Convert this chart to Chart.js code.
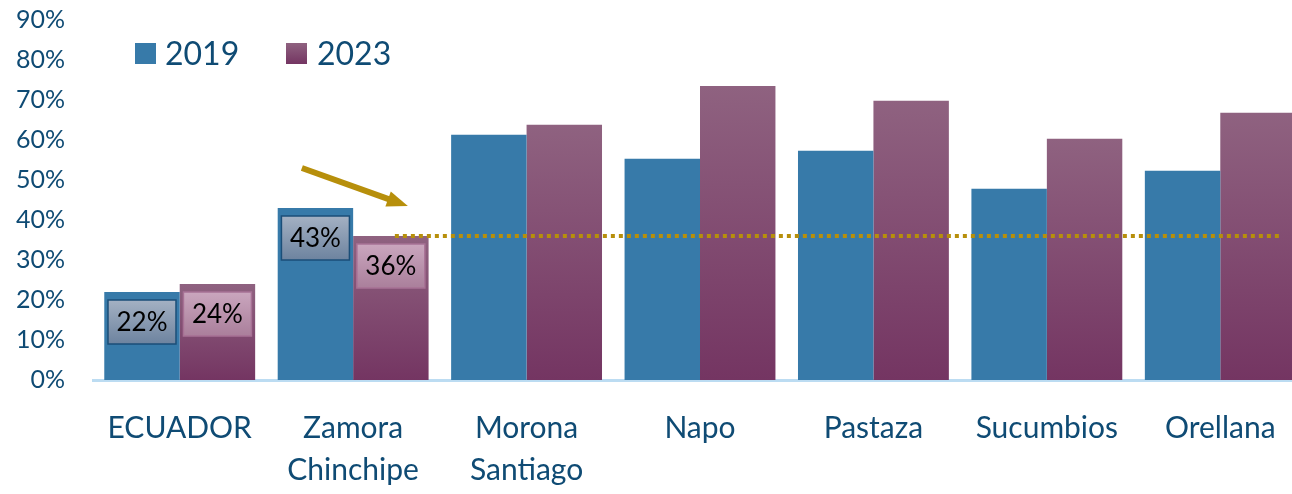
<!DOCTYPE html>
<html>
<head>
<meta charset="utf-8">
<script src="https://cdn.jsdelivr.net/npm/chart.js@4.4.1/dist/chart.umd.min.js"></script>
<style>
  html, body { margin: 0; padding: 0; background: #fff; overflow: hidden; }
  #wrap { width: 1307px; height: 494px; position: relative; }
</style>
</head>
<body>
<div id="wrap"><canvas id="chart"></canvas></div>
<script>
const categories = ['ECUADOR', ['Zamora', 'Chinchipe'], ['Morona', 'Santiago'], 'Napo', 'Pastaza', 'Sucumbios', 'Orellana'];
const values2019 = [22, 43, 61.3, 55.3, 57.3, 47.8, 52.3];
const values2023 = [24, 36, 63.8, 73.5, 69.8, 60.3, 66.8];
const yTicks = [0, 10, 20, 30, 40, 50, 60, 70, 80, 90];
const labelledBars = [0, 1];      // categories that carry a value box
const referenceValue = 36;        // dotted line level (Zamora Chinchipe 2023)

const TEXT = '#0f4b74';
const BLUE = '#377aa9';
const GOLD = '#b78f0b';

// vertical gradient from the bar's own top down to zero
function purpleFill(ctx) {
  const chart = ctx.chart;
  if (!chart.chartArea || ctx.raw == null) return '#80406c';
  const y = chart.scales.y;
  const top = y.getPixelForValue(ctx.raw);
  const bottom = y.getPixelForValue(0);
  const g = chart.ctx.createLinearGradient(0, top, 0, bottom);
  g.addColorStop(0, '#8f6280');
  g.addColorStop(1, '#743562');
  return g;
}

function valueBox(c, x, y, w, h, top, bottom, stroke) {
  const g = c.createLinearGradient(0, y, 0, y + h);
  g.addColorStop(0, top);
  g.addColorStop(1, bottom);
  c.fillStyle = g;
  c.fillRect(x, y, w, h);
  c.lineWidth = 1.5;
  c.strokeStyle = stroke;
  c.strokeRect(x, y, w, h);
}

const extras = {
  id: 'extras',
  afterDatasetsDraw(chart) {
    const c = chart.ctx;
    const yScale = chart.scales.y;
    const m19 = chart.getDatasetMeta(0).data;
    const m23 = chart.getDatasetMeta(1).data;
    c.save();

    // value boxes inside the first two groups
    labelledBars.forEach(i => {
      [[m19[i], values2019[i], '#a4b1c3', '#6d839f', '#1b4e78'],
       [m23[i], values2023[i], '#caa6be', '#aa7f9b', '#a77195']].forEach(([bar, v, t, b, s]) => {
        const w = 68, h = 44;
        const x = bar.x - w / 2, y = bar.y + 8;
        valueBox(c, x, y, w, h, t, b, s);
        c.fillStyle = '#000';
        c.font = '26px Lato';
        c.textAlign = 'center';
        c.textBaseline = 'middle';
        c.fillText(v + '%', bar.x, y + h / 2 + 1);
      });
    });

    // dotted reference line at the Zamora 2023 level
    const ly = yScale.getPixelForValue(referenceValue);
    const startX = m23[1].x + 4;
    c.beginPath();
    c.setLineDash([4, 4]);
    c.lineWidth = 4;
    c.strokeStyle = GOLD;
    c.moveTo(startX, ly);
    c.lineTo(1280, ly);
    c.stroke();
    c.setLineDash([]);

    // arrow pointing at the line
    const tipX = m23[1].x + 17, tipY = ly - 30;
    const tailX = tipX - 106, tailY = tipY - 38;
    const ang = Math.atan2(tipY - tailY, tipX - tailX);
    const headLen = 21, headHalf = 8;
    const baseX = tipX - headLen * Math.cos(ang), baseY = tipY - headLen * Math.sin(ang);
    c.strokeStyle = GOLD;
    c.lineWidth = 6;
    c.beginPath();
    c.moveTo(tailX, tailY);
    c.lineTo(baseX + 2 * Math.cos(ang), baseY + 2 * Math.sin(ang));
    c.stroke();
    c.fillStyle = GOLD;
    c.beginPath();
    c.moveTo(tipX, tipY);
    c.lineTo(baseX + headHalf * Math.sin(ang), baseY - headHalf * Math.cos(ang));
    c.lineTo(baseX - headHalf * Math.sin(ang), baseY + headHalf * Math.cos(ang));
    c.closePath();
    c.fill();

    // legend
    c.font = '32px Lato';
    c.textAlign = 'left';
    c.textBaseline = 'alphabetic';
    c.fillStyle = BLUE;
    c.fillRect(135, 43, 21, 21);
    const lg = c.createLinearGradient(0, 43, 0, 64);
    lg.addColorStop(0, '#8f6280');
    lg.addColorStop(1, '#743562');
    c.fillStyle = lg;
    c.fillRect(286, 43, 21, 21);
    c.fillStyle = TEXT;
    c.fillText('2019', 165, 65);
    c.fillText('2023', 317, 65);
    c.restore();
  }
};

new Chart(document.getElementById('chart'), {
  type: 'bar',
  data: {
    labels: categories,
    datasets: [
      { label: '2019', data: values2019, backgroundColor: BLUE },
      { label: '2023', data: values2023, backgroundColor: purpleFill }
    ]
  },
  options: {
    responsive: true,
    maintainAspectRatio: false,
    animation: false,
    events: [],
    layout: { padding: { top: 20, right: 0, bottom: 0, left: 0 } },
    datasets: { bar: { barPercentage: 1, categoryPercentage: 0.87 } },
    plugins: { legend: { display: false }, tooltip: { enabled: false } },
    scales: {
      x: {
        grid: { display: false, drawTicks: false },
        border: { display: true, color: '#bcdcf2', width: 3 },
        ticks: {
          color: TEXT,
          font: { family: 'Lato', size: 30, lineHeight: 1.4 },
          padding: 27,
          maxRotation: 0,
          autoSkip: false
        },
        afterFit(scale) {
          scale.height = 114;
          scale.paddingLeft = 0;
          scale.paddingRight = 0;
        }
      },
      y: {
        min: 0,
        max: 90,
        afterBuildTicks(scale) { scale.ticks = yTicks.map(v => ({ value: v })); },
        grid: { display: false, drawTicks: false },
        border: { display: false },
        ticks: {
          color: TEXT,
          font: { family: 'Lato', size: 25 },
          padding: 28,
          callback: v => v + '%'
        },
        afterFit(scale) {
          scale.width = 93;
          scale.paddingTop = 0;
          scale.paddingBottom = 0;
        }
      }
    }
  },
  plugins: [extras]
});
</script>
</body>
</html>
